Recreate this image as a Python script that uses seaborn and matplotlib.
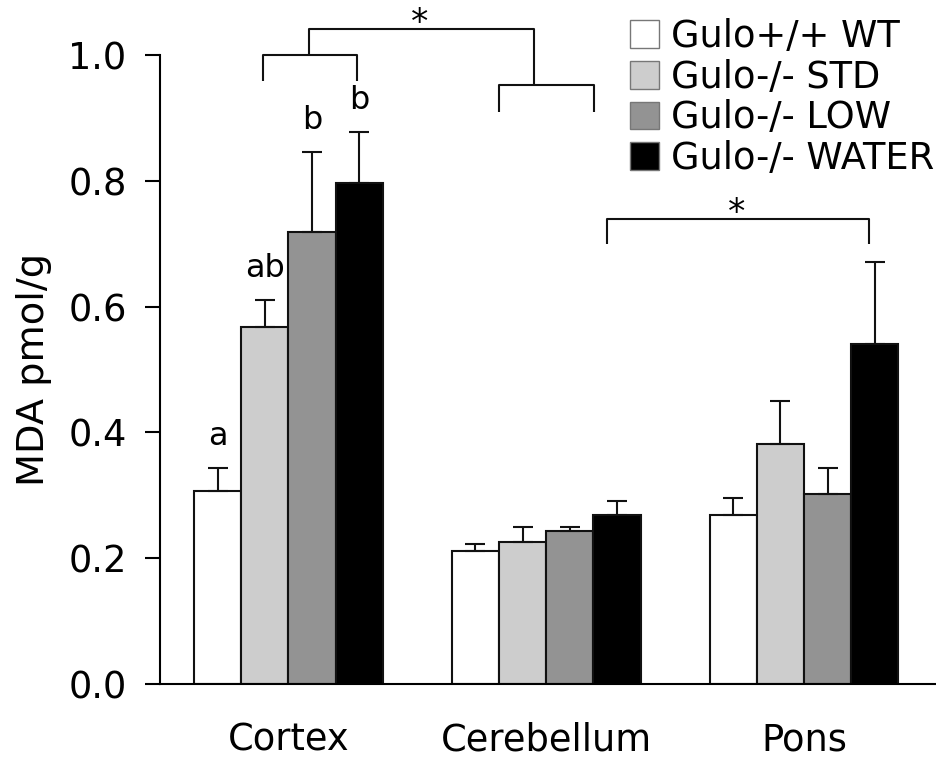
import pandas as pd
import seaborn as sns
import matplotlib.pyplot as plt

regions = ["Cortex", "Cerebellum", "Pons"]
groups = ["Gulo+/+ WT", "Gulo-/- STD", "Gulo-/- LOW", "Gulo-/- WATER"]
colors = ["#ffffff", "#cdcdcd", "#939393", "#000000"]

# mean MDA per group, in region order
wt = [0.307, 0.212, 0.268]
std = [0.568, 0.225, 0.382]
low = [0.719, 0.244, 0.302]
water = [0.797, 0.268, 0.541]

# upper error (SEM)
wt_err = [0.037, 0.011, 0.028]
std_err = [0.042, 0.024, 0.068]
low_err = [0.127, 0.006, 0.042]
water_err = [0.080, 0.023, 0.130]

cortex_letters = ["a", "ab", "b", "b"]

means = [wt, std, low, water]
errs = [wt_err, std_err, low_err, water_err]
rows = []
for g, m, e in zip(groups, means, errs):
    for r, v, s in zip(regions, m, e):
        rows.append({"Region": r, "Group": g, "MDA": v, "err": s})
df = pd.DataFrame(rows)

sns.set_style("ticks")
plt.rcParams["font.family"] = ["DejaVu Sans"]
plt.rcParams["text.color"] = "black"
plt.rcParams["axes.labelcolor"] = "black"
plt.rcParams["xtick.color"] = "black"
plt.rcParams["ytick.color"] = "black"
plt.rcParams["axes.edgecolor"] = "black"

fig = plt.figure(figsize=(9.36, 7.6), dpi=100)
ax = fig.add_axes([0.171, 0.1, 0.829, 0.8276])

line = "#111111"
sns.barplot(data=df, x="Region", y="MDA", hue="Group", hue_order=groups,
            order=regions, palette=colors, width=0.733, errorbar=None,
            edgecolor=line, linewidth=1.5, ax=ax)

# one-sided error bars on top of each bar
for cont, e in zip(ax.containers, errs):
    xs = [p.get_x() + p.get_width() / 2 for p in cont.patches]
    ys = [p.get_height() for p in cont.patches]
    ax.errorbar(xs, ys, yerr=[[0] * len(e), e], fmt="none", ecolor=line,
                elinewidth=1.5, capsize=7.2, capthick=1.5, zorder=3)

# letters over cortex bars
for cont, e, lab in zip(ax.containers, errs, cortex_letters):
    p = cont.patches[0]
    ax.text(p.get_x() + p.get_width() / 2, p.get_height() + e[0] + 0.05, lab,
            ha="center", va="center", fontsize=23)

# significance brackets
kw = dict(color=line, lw=1.5, clip_on=False, solid_capstyle="butt")
ax.plot([-0.10, -0.10, 0.265, 0.265], [0.958, 1.0, 1.0, 0.958], **kw)
ax.plot([0.818, 0.818, 1.187, 1.187], [0.909, 0.952, 0.952, 0.909], **kw)
ax.plot([0.08, 0.08, 0.953, 0.953], [1.0, 1.042, 1.042, 0.952], **kw)
ax.text(0.51, 1.035, "*", ha="center", va="baseline", fontsize=25, clip_on=False)
ax.plot([1.237, 1.237, 2.251, 2.251], [0.699, 0.740, 0.740, 0.699], **kw)
ax.text(1.74, 0.733, "*", ha="center", va="baseline", fontsize=25)

ax.set_ylim(0, 1.0)
ax.set_xlim(-0.498, 2.512)
ax.set_yticks([0.0, 0.2, 0.4, 0.6, 0.8, 1.0])
ax.set_yticklabels(["0.0", "0.2", "0.4", "0.6", "0.8", "1.0"])
ax.set_ylabel("MDA pmol/g", fontsize=27.5, labelpad=12)
ax.set_xlabel("")
ax.tick_params(axis="y", labelsize=26.5, length=11, width=1.5, pad=13)
ax.tick_params(axis="x", labelsize=26.5, length=0, pad=27)
sns.despine(ax=ax)
ax.spines["left"].set_linewidth(1.5)
ax.spines["bottom"].set_linewidth(1.5)

handles, labels = ax.get_legend_handles_labels()
ax.legend(handles, labels, loc="upper left", bbox_to_anchor=(630 / 936, 1 - 18 / 760),
          bbox_transform=fig.transFigure, frameon=False, fontsize=26.5,
          handlelength=0.78, handleheight=0.78, handletextpad=0.34,
          labelspacing=0.1, borderpad=0, borderaxespad=0)
for h in ax.get_legend().legend_handles:
    h.set_edgecolor("#777777")
    h.set_linewidth(1)

fig.savefig("out.png", dpi=100)
